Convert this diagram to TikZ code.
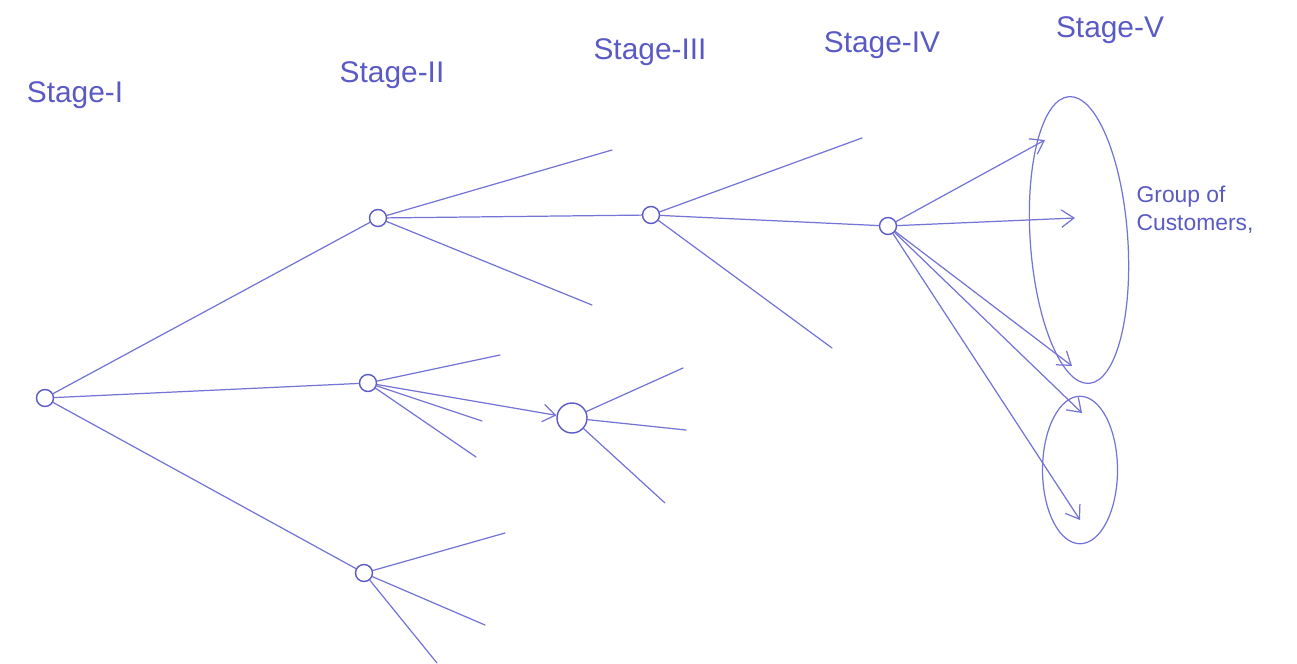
\documentclass[tikz,border=0pt]{standalone}
\usepackage{fontspec}
\setmainfont{Liberation Sans}
\usetikzlibrary{arrows.meta,shapes.geometric}
\definecolor{ink}{HTML}{7474D6}
\definecolor{inkdark}{HTML}{5A5AC4}
\begin{document}
\begin{tikzpicture}[x=0.02cm,y=-0.02cm,
  pen/.style={draw=ink,line width=0.7pt,line cap=round},
  hub/.style={circle,draw=inkdark,line width=0.8pt,inner sep=0pt,minimum size=0.34cm},
  bighub/.style={hub,minimum size=0.6cm},
  tip/.style={-{Straight Barb[length=2.5mm,width=3.5mm]}},
  group/.style={draw=ink,line width=0.7pt,ellipse,inner sep=0pt},
  stagelbl/.style={text=inkdark,font=\fontsize{17}{20}\selectfont},
  note/.style={text=inkdark,font=\fontsize{13}{16}\selectfont,align=left}]
\useasboundingbox (0,0) rectangle (1297,663);

% stage headings
\node[stagelbl] (s1) at (75,95) {Stage-I};
\node[stagelbl] (s2) at (392,75) {Stage-II};
\node[stagelbl] (s3) at (650,52) {Stage-III};
\node[stagelbl] (s4) at (882,45) {Stage-IV};
\node[stagelbl] (s5) at (1110,30) {Stage-V};

% decision points
\node[hub] (n1) at (45,398) {};
\node[hub] (n2a) at (378,218) {};
\node[hub] (n2b) at (368,383) {};
\node[hub] (n2c) at (364,573) {};
\node[hub] (n3a) at (651,215) {};
\node[bighub] (n3b) at (572,418) {};
\node[hub] (n4) at (888,226) {};

% open branch ends
\coordinate (a1) at (612,150);
\coordinate (a2) at (592,305);
\coordinate (b1) at (862,138);
\coordinate (b2) at (832,348);
\coordinate (c1) at (500,355);
\coordinate (c2) at (482,421);
\coordinate (c3) at (476,457);
\coordinate (d1) at (683,368);
\coordinate (d2) at (686,430);
\coordinate (d3) at (665,503);
\coordinate (e1) at (505,533);
\coordinate (e2) at (485,625);
\coordinate (e3) at (437,663);

% customer groups
\node[group,minimum width=1.95cm,minimum height=5.75cm,rotate=4] (g1) at (1079,240) {};
\node[group,minimum width=1.5cm,minimum height=2.95cm] (g2) at (1080,470) {};
\coordinate (t1) at (1045,140);
\coordinate (t2) at (1075,218);
\coordinate (t3) at (1072,366);
\coordinate (t4) at (1082,413);
\coordinate (t5) at (1080,520);

\node[note] (grp) at (1195,210) {Group of\\Customers,};

% stage I to stage II
\draw[pen] (n1) -- (n2a);
\draw[pen] (n1) -- (n2b);
\draw[pen] (n1) -- (n2c);

% branches of the stage II points
\draw[pen] (n2a) -- (a1);
\draw[pen] (n2a) -- (n3a);
\draw[pen] (n2a) -- (a2);
\draw[pen] (n2b) -- (c1);
\draw[pen] (n2b) -- (c2);
\draw[pen,tip] (n2b) -- (n3b);
\draw[pen] (n2b) -- (c3);
\draw[pen] (n2c) -- (e1);
\draw[pen] (n2c) -- (e2);
\draw[pen] (n2c) -- (e3);

% branches of the stage III points
\draw[pen] (n3a) -- (b1);
\draw[pen] (n3a) -- (n4);
\draw[pen] (n3a) -- (b2);
\draw[pen] (n3b) -- (d1);
\draw[pen] (n3b) -- (d2);
\draw[pen] (n3b) -- (d3);

% stage IV to the customer groups
\draw[pen,tip] (n4) -- (t1);
\draw[pen,tip] (n4) -- (t2);
\draw[pen,tip] (n4) -- (t3);
\draw[pen,tip] (n4) -- (t4);
\draw[pen,tip] (n4) -- (t5);
\end{tikzpicture}
\end{document}
